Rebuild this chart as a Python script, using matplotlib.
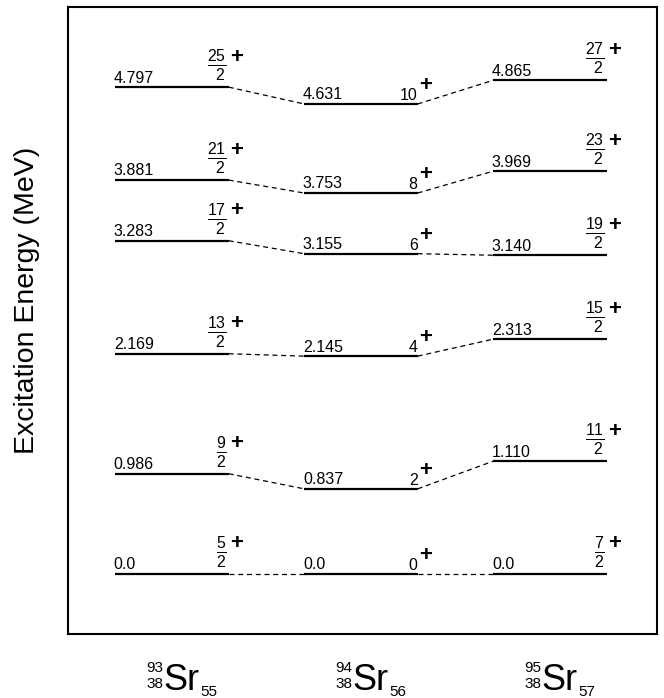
import matplotlib
matplotlib.use("Agg")
import matplotlib.pyplot as plt

plt.rcParams['font.family'] = ['Liberation Sans', 'DejaVu Sans']
plt.rcParams['mathtext.fontset'] = 'custom'
plt.rcParams['mathtext.rm'] = 'Liberation Sans'
plt.rcParams['mathtext.it'] = 'Liberation Sans'
plt.rcParams['mathtext.bf'] = 'Liberation Sans:bold'

# ---- data ----
element = 'Sr'
mass_numbers = ['93', '94', '95']
proton_numbers = ['38', '38', '38']
neutron_numbers = ['55', '56', '57']

energies_93 = [0.0, 0.986, 2.169, 3.283, 3.881, 4.797]
energy_text_93 = ['0.0', '0.986', '2.169', '3.283', '3.881', '4.797']
spins_93 = ['5/2', '9/2', '13/2', '17/2', '21/2', '25/2']

energies_94 = [0.0, 0.837, 2.145, 3.155, 3.753, 4.631]
energy_text_94 = ['0.0', '0.837', '2.145', '3.155', '3.753', '4.631']
spins_94 = ['0', '2', '4', '6', '8', '10']

energies_95 = [0.0, 1.110, 2.313, 3.140, 3.969, 4.865]
energy_text_95 = ['0.0', '1.110', '2.313', '3.140', '3.969', '4.865']
spins_95 = ['7/2', '11/2', '15/2', '19/2', '23/2', '27/2']

parity = '+'

columns = [(energies_93, energy_text_93, spins_93),
           (energies_94, energy_text_94, spins_94),
           (energies_95, energy_text_95, spins_95)]

# ---- figure ----
fig = plt.figure(figsize=(6.64, 6.98), dpi=100)
ax = fig.add_axes([68/664, 1-634/698, (657-68)/664, (634-7)/698])
ax.set_xlim(-0.55, 2.566)
ax.set_ylim(-0.594, 5.587)

hw = 0.30  # half width of a level line
FS_E = 11.5
FS_FRAC = 16.4   # mathtext shrinks fraction parts by 0.7 -> ~11.5 pt digits
FS_P = 16


def fraction_text(num, den):
    # denominator right-aligned under the numerator, as in the reference
    pad = max(len(num) - len(den), 0) * 0.67
    if pad:
        return r'$\frac{%s}{\hspace{%.2f}%s}$' % (num, pad, den)
    return r'$\frac{%s}{%s}$' % (num, den)


for ci, (E, etxt, spins) in enumerate(columns):
    x0, x1 = ci - hw, ci + hw
    for e, t, s in zip(E, etxt, spins):
        ax.plot([x0, x1], [e, e], color='black', lw=1.6, solid_capstyle='butt')
        ax.annotate(t, (x0, e), xytext=(-1, 3.3), textcoords='offset points',
                    ha='left', va='baseline', fontsize=FS_E)
        if '/' in s:
            num, den = s.split('/')
            ax.annotate(fraction_text(num, den), (x1, e), xytext=(-1.5, 3.0),
                        textcoords='offset points', ha='right', va='bottom',
                        fontsize=FS_FRAC)
            ax.annotate(parity, (x1, e), xytext=(0.8, 21.5), textcoords='offset points',
                        ha='left', va='center', fontsize=FS_P, fontweight='bold')
        else:
            ax.annotate(s, (x1, e), xytext=(0, 3), textcoords='offset points',
                        ha='right', va='baseline', fontsize=FS_E)
            ax.annotate(parity, (x1, e), xytext=(0.8, 13.3), textcoords='offset points',
                        ha='left', va='center', fontsize=FS_P, fontweight='bold')

# dashed connectors between neighbouring nuclei
for ci in range(len(columns) - 1):
    Ea = columns[ci][0]
    Eb = columns[ci + 1][0]
    for ea, eb in zip(Ea, Eb):
        ax.plot([ci + hw, ci + 1 - hw], [ea, eb], color='black', lw=0.9,
                linestyle=(0, (4, 3)))

# nuclide labels below the axis
tr = ax.get_xaxis_transform()
for ci, (A, Z, N) in enumerate(zip(mass_numbers, proton_numbers, neutron_numbers)):
    ax.annotate(element, (ci, 0), xycoords=tr, xytext=(-6, -40), textcoords='offset points',
                ha='left', va='baseline', fontsize=26, annotation_clip=False)
    ax.annotate(A, (ci, 0), xycoords=tr, xytext=(-6, -27.5), textcoords='offset points',
                ha='right', va='baseline', fontsize=11, annotation_clip=False)
    ax.annotate(Z, (ci, 0), xycoords=tr, xytext=(-6, -39), textcoords='offset points',
                ha='right', va='baseline', fontsize=11, annotation_clip=False)
    ax.annotate(N, (ci, 0), xycoords=tr, xytext=(20.5, -45), textcoords='offset points',
                ha='left', va='baseline', fontsize=11, annotation_clip=False)

ax.set_xticks([])
ax.set_yticks([])
for sp in ax.spines.values():
    sp.set_linewidth(1.5)

fig.text(27/664, 1-300/698, 'Excitation Energy (MeV)', rotation=90,
         ha='center', va='center', fontsize=20.5)

fig.savefig('out.png', dpi=100)
